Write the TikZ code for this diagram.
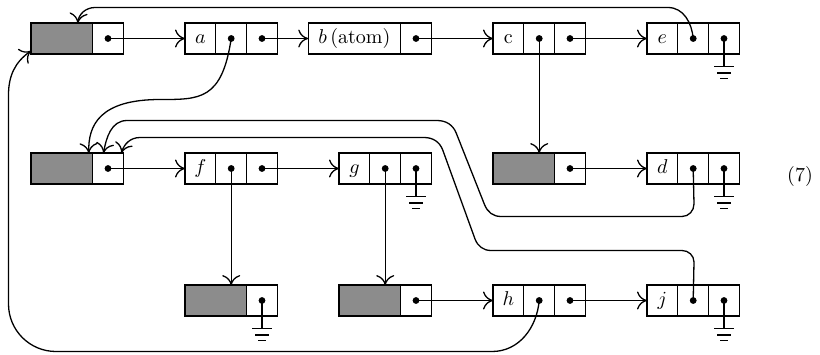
\documentclass[tikz,border=0pt]{standalone}
\usetikzlibrary{arrows.meta,positioning,calc}

\begin{document}
\begin{tikzpicture}[x=0.5pt,y=-0.5pt,line width=0.65pt,
  >={Computer Modern Rightarrow[length=5pt,width=9pt]},
  node distance=0pt,
  cell/.style={draw,outer sep=0pt,inner sep=0pt,minimum width=15.4pt,minimum height=15.4pt,
    text height=1.5ex,text depth=.25ex},
  ptr/.style={cell,path picture={\fill (path picture bounding box.center) circle (1.7pt);}},
  hd/.style={cell,fill=black!45,minimum width=30.8pt},
  atom/.style={cell,minimum width=46.2pt},
  gnd/.pic={\draw (0,0) -- (0,28) (-10,28) -- (10,28) (-7,34.5) -- (7,34.5) (-4,40) -- (4,40);}]
\useasboundingbox (0,0) rectangle (820,354);
\node[hd,anchor=west] (L1) at (31,38.5) {};
\node[ptr,right=of L1] (L1p) {};
\node[cell,anchor=west] (a1) at (185,38.5) {$a$};
\node[ptr,right=of a1] (a2) {};
\node[ptr,right=of a2] (a3) {};
\node[atom,anchor=west] (b1) at (308.2,38.5) {$b\,$(atom)};
\node[ptr,right=of b1] (b2) {};
\node[cell,anchor=west] (c1) at (493,38.5) {c};
\node[ptr,right=of c1] (c2) {};
\node[ptr,right=of c2] (c3) {};
\node[cell,anchor=west] (e1) at (647,38.5) {$e$};
\node[ptr,right=of e1] (e2) {};
\node[ptr,right=of e2] (e3) {};
\node[hd,anchor=west] (L2) at (31,168.5) {};
\node[ptr,right=of L2] (L2p) {};
\node[cell,anchor=west] (f1) at (185,168.5) {$f$};
\node[ptr,right=of f1] (f2) {};
\node[ptr,right=of f2] (f3) {};
\node[cell,anchor=west] (g1) at (339,168.5) {$g$};
\node[ptr,right=of g1] (g2) {};
\node[ptr,right=of g2] (g3) {};
\node[hd,anchor=west] (Lc) at (493,168.5) {};
\node[ptr,right=of Lc] (Lcp) {};
\node[cell,anchor=west] (d1) at (647,168.5) {$d$};
\node[ptr,right=of d1] (d2) {};
\node[ptr,right=of d2] (d3) {};
\node[hd,anchor=west] (Lf) at (185,300.5) {};
\node[ptr,right=of Lf] (Lfp) {};
\node[hd,anchor=west] (Lg) at (339,300.5) {};
\node[ptr,right=of Lg] (Lgp) {};
\node[cell,anchor=west] (h1) at (493,300.5) {$h$};
\node[ptr,right=of h1] (h2) {};
\node[ptr,right=of h2] (h3) {};
\node[cell,anchor=west] (j1) at (647,300.5) {$j$};
\node[ptr,right=of j1] (j2) {};
\node[ptr,right=of j2] (j3) {};
\node (eqn) at (800,176) {(7)};
\foreach \n in {e3,g3,d3,Lfp,j3} \pic at (\n.center) {gnd};
\draw[->] (L1p.center) -- (a1.west);
\draw[->] (a3.center) -- (b1.west);
\draw[->] (b2.center) -- (c1.west);
\draw[->] (c3.center) -- (e1.west);
\draw[->] (L2p.center) -- (f1.west);
\draw[->] (f3.center) -- (g1.west);
\draw[->] (Lcp.center) -- (d1.west);
\draw[->] (Lgp.center) -- (h1.west);
\draw[->] (h3.center) -- (j1.west);
\draw[->] (c2.center) -- (Lc.north -| c2.center);
\draw[->] (f2.center) -- (Lf.north -| f2.center);
\draw[->] (g2.center) -- (Lg.north -| g2.center);
\draw[->] (e2.center) to[out=95,in=0] (668,7.5) -- (95,7.5) to[out=180,in=85] ($(L1.north)+(16,0)$);
\draw[->] (a2.center) .. controls (222,100) and (200,99.5) .. (160,99.5)
  .. controls (100,99.5) and (88,125) .. ($(L2.north)+(27,0)$);
\draw[->] (d2.center) -- (694,204) to[out=-90,in=0] (682,216.5) -- (501,216.5) to[out=180,in=-68] (484.6,204.8)
  -- (456.2,133) to[out=112,in=0] (437,120.5) -- (127,120.5) to[out=180,in=80] ($(L2p.north)+(-4.5,0)$);
\draw[->] (j2.center) -- (694,262) to[out=90,in=0] (682,250.5) -- (491,250.5) to[out=180,in=-70] (474.9,238.7)
  -- (442.8,150.2) to[out=110,in=0] (424,137.5) -- (140,137.5) to[out=180,in=75] ($(L2p.north)+(13.5,0)$);
\draw[->] (h2.center) to[out=-95,in=0] (492,351.5) -- (56,351.5) to[out=180,in=-90] (8.5,304) -- (8.5,95)
  to[out=90,in=215] ($(L1.south west)+(0,-3)$);
\end{tikzpicture}
\end{document}
